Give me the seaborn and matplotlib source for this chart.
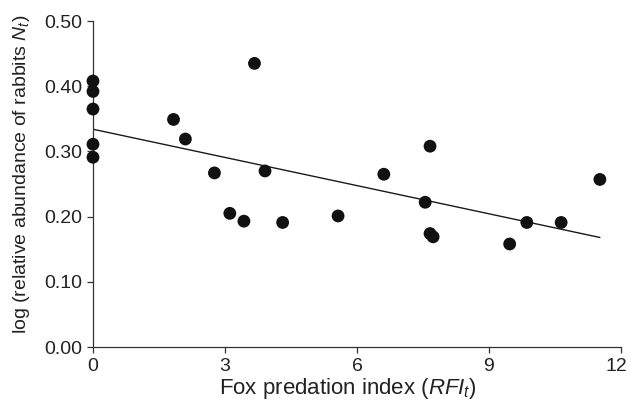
import matplotlib
matplotlib.use("Agg")
import matplotlib.pyplot as plt
import matplotlib.transforms as mtransforms
import seaborn as sns
import numpy as np
import pandas as pd

# Fox predation index and log relative rabbit abundance
rfi = [0.0, 0.0, 0.0, 0.0, 0.0,
       1.83, 2.10, 2.76, 3.11, 3.43, 3.67, 3.91, 4.31,
       5.57, 6.61, 7.55, 7.66, 7.66, 7.73,
       9.47, 9.86, 10.64, 11.52]
log_n = [0.408, 0.392, 0.365, 0.311, 0.291,
         0.349, 0.319, 0.267, 0.205, 0.193, 0.435, 0.270, 0.191,
         0.201, 0.265, 0.222, 0.308, 0.174, 0.169,
         0.158, 0.191, 0.191, 0.257]

# Fitted regression line end points
fit_x = [0.0, 11.52]
fit_y = [0.334, 0.168]

x_ticks = [0, 3, 6, 9, 12]
y_ticks = [0.0, 0.1, 0.2, 0.3, 0.4, 0.5]

sns.set_style("ticks")
plt.rcParams["font.family"] = ["Liberation Sans", "DejaVu Sans"]
plt.rcParams["mathtext.fontset"] = "custom"
plt.rcParams["mathtext.rm"] = "Liberation Sans"
plt.rcParams["mathtext.it"] = "Liberation Sans:italic"

df = pd.DataFrame({"rfi": rfi, "log_n": log_n})
fit = pd.DataFrame({"x": fit_x, "y": fit_y})

fig = plt.figure(figsize=(6.3, 4.08), dpi=100)
ax = fig.add_axes([0.1476, 0.1495, 0.8381, 0.7990])

sns.lineplot(data=fit, x="x", y="y", ax=ax, color="#1a1a1a", linewidth=1.0)
sns.scatterplot(data=df, x="rfi", y="log_n", ax=ax, color="#111111",
                s=85, edgecolor="none", clip_on=False, zorder=3)

ax.set_xlim(0, 12)
ax.set_ylim(0, 0.5)
ax.set_xticks(x_ticks)
ax.set_xticklabels([str(t) for t in x_ticks])
ax.set_yticks(y_ticks)
ax.set_yticklabels([f"{t:.2f}" for t in y_ticks])

for side in ["top", "right"]:
    ax.spines[side].set_visible(False)
for side in ["left", "bottom"]:
    ax.spines[side].set_color("#333333")
    ax.spines[side].set_linewidth(0.9)

ax.tick_params(axis="both", direction="out", length=4, width=0.9,
               color="#333333", labelsize=14, labelcolor="#222222", pad=4)

# keep the last x tick label inside the figure
last = ax.get_xticklabels()[-1]
last.set_transform(last.get_transform() +
                   mtransforms.ScaledTranslation(-5 / 100, 0, fig.dpi_scale_trans))

ax.set_xlabel("Fox predation index ($\\mathit{RFI_t}$)", fontsize=16,
              color="#222222")
ax.xaxis.set_label_coords(0.483, -0.09)
ax.set_ylabel("log (relative abundance of rabbits $\\mathit{N_t}$)",
              fontsize=14, color="#222222")
ax.yaxis.set_label_coords(-0.115, 0.53)

fig.savefig("out.png", dpi=100)
